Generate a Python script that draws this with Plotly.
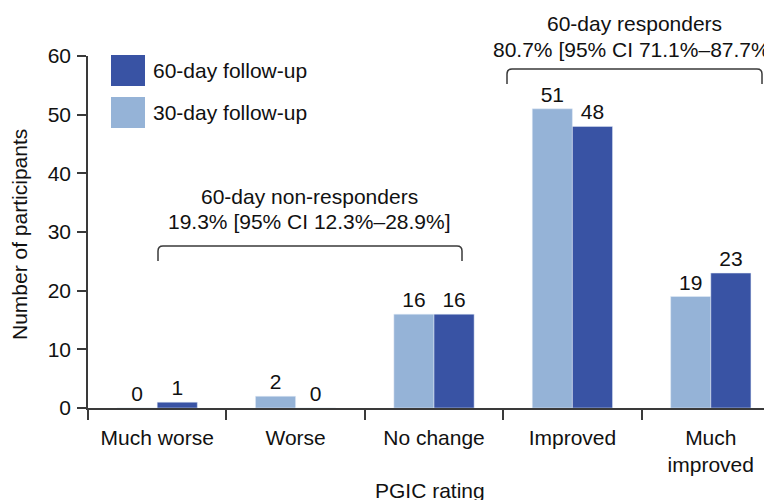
import plotly.graph_objects as go

categories = ["Much worse", "Worse", "No change", "Improved", "Much<br>improved"]
day30 = [0, 2, 16, 51, 19]
day60 = [1, 0, 16, 48, 23]
series_names = ["30-day follow-up", "60-day follow-up"]
y_ticks = [0, 10, 20, 30, 40, 50, 60]

DARK = "#3953A4"
LIGHT = "#95B3D7"
AX = "#3a3a3a"
FONT = "Liberation Sans, Arial, sans-serif"
FS = 21

x = list(range(len(categories)))

fig = go.Figure()
fig.add_trace(go.Bar(x=x, y=day30, name=series_names[0], marker_color=LIGHT,
                     text=[str(v) for v in day30], textposition="outside",
                     textfont=dict(size=FS, color="#111"), cliponaxis=False,
                     showlegend=False))
fig.add_trace(go.Bar(x=x, y=day60, name=series_names[1], marker_color=DARK,
                     text=[str(v) for v in day60], textposition="outside",
                     textfont=dict(size=FS, color="#111"), cliponaxis=False,
                     showlegend=False))

# page is offset by ~8px (body margin); plot area: x 88..780, y 56..408 on screen
fig.update_layout(
    width=772, height=500,
    margin=dict(l=80, r=0, t=48, b=100, autoexpand=False),
    paper_bgcolor="white", plot_bgcolor="white",
    barmode="group", bargap=0.42, bargroupgap=0,
    font=dict(family=FONT, size=FS, color="#111"),
)

fig.update_xaxes(
    range=[-0.5, 4.5], automargin=False,
    tickvals=x, ticktext=categories, ticks="",
    tickfont=dict(size=FS), ticklabelstandoff=10,
    showline=True, linecolor=AX, linewidth=1.6,
    showgrid=False, zeroline=False,
    minor=dict(tickvals=[-0.5, 0.5, 1.5, 2.5, 3.5, 4.5], ticks="outside",
               ticklen=10, tickcolor=AX, tickwidth=1.6, showgrid=False),
)
fig.update_yaxes(
    range=[0, 60], tickvals=y_ticks, ticks="outside", ticklen=9,
    automargin=False, ticklabelstandoff=2,
    tickcolor=AX, tickwidth=1.6, tickfont=dict(size=FS),
    showline=True, linecolor=AX, linewidth=1.6,
    showgrid=False, zeroline=False,
)

PW = 692.0
PH = 352.0

def pxx(px):
    return (px - 88) / PW

def pxy(py):
    return (408 - py) / PH

# axis titles
fig.add_annotation(xref="paper", yref="paper", x=pxx(430), y=pxy(490),
                   text="PGIC rating", showarrow=False, xanchor="center",
                   yanchor="middle", font=dict(size=FS))
fig.add_annotation(xref="paper", yref="paper", x=pxx(19), y=pxy(235),
                   text="Number of participants", showarrow=False,
                   textangle=-90, xanchor="center", yanchor="middle",
                   font=dict(size=FS))

# manual legend (large swatches)
leg = [(series_names[1], DARK, 55, 86), (series_names[0], LIGHT, 97, 128)]
for name, col, top, bot in leg:
    fig.add_shape(type="rect", xref="paper", yref="paper",
                  x0=pxx(111), x1=pxx(145), y0=pxy(bot), y1=pxy(top),
                  fillcolor=col, line=dict(width=0))
    fig.add_annotation(xref="paper", yref="paper", x=pxx(151),
                       y=pxy((top + bot) / 2), text=name,
                       showarrow=False, xanchor="left", yanchor="middle",
                       font=dict(size=FS))

def px2x(px):
    return (px - 88) / (PW / 5) - 0.5

def py2y(py):
    return (408 - py) * 60 / PH

def bracket(x0p, x1p, ytop_p, ybot_p):
    x0, x1 = px2x(x0p), px2x(x1p)
    yt, yb = py2y(ytop_p), py2y(ybot_p)
    rx = px2x(x0p + 5) - x0
    ry = yt - py2y(ytop_p + 5)
    path = (f"M {x0},{yb} L {x0},{yt - ry} Q {x0},{yt} {x0 + rx},{yt} "
            f"L {x1 - rx},{yt} Q {x1},{yt} {x1},{yt - ry} L {x1},{yb}")
    fig.add_shape(type="path", xref="x", yref="y", path=path,
                  line=dict(color=AX, width=1.5))

bracket(158, 462, 246, 261)
bracket(507, 762, 69, 84)

notes = [
    ("60-day non-responders", 309, 196),
    ("19.3% [95% CI 12.3%–28.9%]", 309, 221),
    ("60-day responders", 634, 23),
    ("80.7% [95% CI 71.1%–87.7%]", 634, 50),
]
for txt, xp, yp in notes:
    fig.add_annotation(x=pxx(xp), y=pxy(yp), xref="paper", yref="paper",
                       text=txt, showarrow=False, xanchor="center",
                       yanchor="middle", font=dict(size=FS))

fig.write_html("out.html")
